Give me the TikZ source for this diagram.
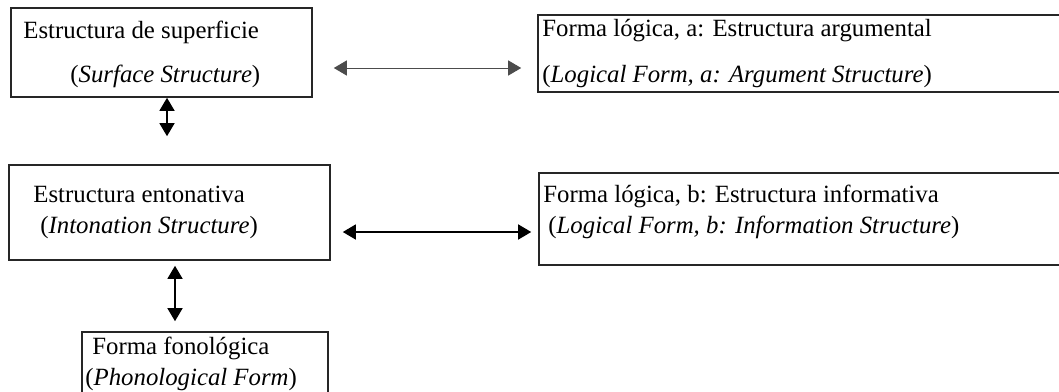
\documentclass[tikz,border=0pt]{standalone}
\usepackage{fontspec}
\setmainfont{Liberation Serif}
\usetikzlibrary{fit,arrows.meta}

\tikzset{
  box/.style={draw=black!85, line width=0.8pt, inner sep=0pt},
  lbl/.style={anchor=base west, inner sep=0pt, font=\fontsize{12.4}{14}\selectfont},
  biarrow/.style={{Triangle[length=6.5pt,width=7.5pt]}-{Triangle[length=6.5pt,width=7.5pt]}, line width=0.7pt}
}

\begin{document}
\begin{tikzpicture}[x=0.5pt, y=-0.5pt]

% page area
\clip (0,0) rectangle (1059,391);
\fill[white] (0,0) rectangle (1059,391);

% =========================
% BOXES
% =========================
\node[box, fit={(11,8) (312,97)}] (sup) {};
\node[box, fit={(538,15) (1080,92)}] (lfa) {};
\node[box, fit={(9,165) (330,260)}] (ent) {};
\node[box, fit={(539,173) (1080,265)}] (lfb) {};
\node[box, fit={(82,332) (328,410)}] (fon) {};

% =========================
% TEXTS
% =========================
\node[lbl] (sup1) at (23,38) {Estructura de superficie};
\node[lbl] (sup2) at (70,82) {(\textit{Surface Structure})};

\node[lbl] (lfa1) at (542,36) {Forma lógica, a: Estructura argumental};
\node[lbl] (lfa2) at (542,82) {(\textit{Logical Form, a: Argument Structure})};

\node[lbl] (ent1) at (33,202) {Estructura entonativa};
\node[lbl] (ent2) at (40,233) {(\textit{Intonation Structure})};

\node[lbl] (lfb1) at (543,202) {Forma lógica, b: Estructura informativa};
\node[lbl] (lfb2) at (548,233) {(\textit{Logical Form, b: Information Structure})};

\node[lbl] (fon1) at (92,354) {Forma fonológica};
\node[lbl] (fon2) at (85,385) {(\textit{Phonological Form})};

% =========================
% CONNECTORS
% =========================
\draw[biarrow, line width=0.5pt, draw=black!70]
  ([shift={(21,15.5)}]sup.east) -- ([shift={(-16,15.5)}]sup.east -| lfa.west);
\draw[biarrow]
  ([shift={(12,19.5)}]ent.east) -- ([shift={(-7,19.5)}]ent.east -| lfb.west);
\draw[biarrow]
  ([xshift=2.75pt]sup.south) -- ([shift={(5.5,-28)}]sup.south |- ent.north);
\draw[biarrow]
  ([shift={(5.5,5)}]ent.south) -- ([shift={(5.5,-10)}]ent.south |- fon.north);

\end{tikzpicture}
\end{document}
